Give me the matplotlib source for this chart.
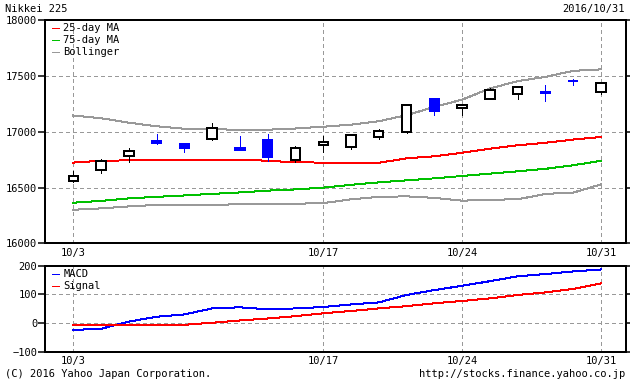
import matplotlib
matplotlib.use("Agg")
import matplotlib.pyplot as plt
from matplotlib.patches import Rectangle

plt.rcParams["font.family"] = ["DejaVu Sans Mono"]
plt.rcParams["font.size"] = 7.5
# the original is a crisp, non-antialiased bitmap chart
plt.rcParams["lines.antialiased"] = False
plt.rcParams["patch.antialiased"] = False

# -- data ----------------------------------------------------------------------
dates = ["10/3", "10/4", "10/5", "10/6", "10/7", "10/11", "10/12", "10/13", "10/14",
         "10/17", "10/18", "10/19", "10/20", "10/21", "10/24", "10/25", "10/26",
         "10/27", "10/28", "10/31"]
opens  = [16559, 16655, 16783, 16915, 16891, 16935, 16852, 16924, 16751, 16879,
          16867, 16957, 17002, 17291, 17213, 17294, 17334, 17352, 17457, 17357]
highs  = [16646, 16753, 16852, 16978, 16897, 17076, 16960, 16978, 16870, 16960,
          16969, 17022, 17238, 17291, 17240, 17390, 17399, 17417, 17471, 17432]
lows   = [16547, 16630, 16729, 16891, 16819, 16924, 16837, 16738, 16729, 16819,
          16846, 16935, 16989, 17148, 17154, 17294, 17291, 17276, 17417, 17334]
closes = [16601, 16738, 16825, 16897, 16855, 17029, 16837, 16774, 16858, 16906,
          16969, 17004, 17238, 17186, 17240, 17375, 17399, 17343, 17453, 17432]

ma25 = [16724, 16740, 16744, 16751, 16751, 16751, 16751, 16740, 16726, 16724,
        16724, 16722, 16762, 16780, 16812, 16848, 16879, 16901, 16930, 16953]
ma75 = [16365, 16381, 16404, 16417, 16430, 16444, 16457, 16473, 16484, 16500,
        16525, 16547, 16565, 16583, 16604, 16625, 16646, 16668, 16700, 16740]
bb_upper = [17145, 17121, 17081, 17049, 17027, 17027, 17013, 17018, 17029, 17045,
            17063, 17094, 17148, 17222, 17287, 17387, 17453, 17491, 17545, 17558]
bb_lower = [16302, 16314, 16332, 16345, 16341, 16341, 16354, 16356, 16356, 16361,
            16395, 16417, 16422, 16408, 16383, 16392, 16395, 16444, 16455, 16529]

macd   = [-24, -20, 5, 22, 30, 51, 55, 48, 51, 56, 65, 72, 98, 115, 130, 146,
          163, 171, 180, 187]
signal = [-8, -8, -8, -8, -6, 1, 9, 16, 24, 34, 42, 51, 59, 69, 77, 86, 98, 107,
          119, 138]

tick_days = ["10/3", "10/17", "10/24", "10/31"]
x = list(range(len(dates)))
tick_pos = [dates.index(d) for d in tick_days]

UP, DOWN = "black", "#0000ff"
LW = 0.72  # one pixel at 100 dpi
GRID = dict(color="#999999", linestyle=(0, (3, 3)), linewidth=LW)

fig = plt.figure(figsize=(6.3, 3.82), dpi=100)
ax1 = fig.add_axes([0.0722, 0.3626, 0.9214, 0.5851])
ax2 = fig.add_axes([0.0722, 0.0793, 0.9214, 0.2251])

# -- price panel ---------------------------------------------------------------
ax1.plot(x, bb_upper, color="#999999", lw=LW, zorder=2)
ax1.plot(x, bb_lower, color="#999999", lw=LW, zorder=2)
ax1.plot(x, ma25, color="#ff0000", lw=LW, zorder=2, label="25-day MA")
ax1.plot(x, ma75, color="#00c000", lw=LW, zorder=2, label="75-day MA")
ax1.plot([], [], color="#999999", lw=LW, label="Bollinger")

w = 0.34
for i in x:
    o, h, l, c = opens[i], highs[i], lows[i], closes[i]
    up = c >= o
    col = UP if up else DOWN
    ax1.vlines(i, l, h, color=col, lw=LW, zorder=3, antialiased=False)
    body = max(abs(c - o), 4)
    ax1.add_patch(Rectangle((i - w / 2, min(o, c)), w, body,
                            facecolor="white" if up else DOWN,
                            edgecolor=col, lw=1.1, zorder=4))

ax1.set_ylim(16000, 18000)
ax1.set_yticks([16000, 16500, 17000, 17500, 18000])

ax1.legend(loc="upper left", bbox_to_anchor=(0.012, 0.985), frameon=False,
           handlelength=0.6, handletextpad=0.45, labelspacing=0.2,
           borderpad=0, borderaxespad=0, fontsize=7.5)

# -- MACD panel ----------------------------------------------------------------
ax2.plot(x, macd, color="#0000ff", lw=LW, label="MACD", zorder=3)
ax2.plot(x, signal, color="#ff0000", lw=LW, label="Signal", zorder=3)
ax2.set_ylim(-100, 200)
ax2.set_yticks([-100, 0, 100, 200])
ax2.legend(loc="upper left", bbox_to_anchor=(0.012, 0.96), frameon=False,
           handlelength=0.6, handletextpad=0.45, labelspacing=0.2,
           borderpad=0, borderaxespad=0, fontsize=7.5)

for ax in (ax1, ax2):
    ax.set_xlim(-1, 19.9)
    ax.set_xticks(tick_pos)
    ax.set_xticklabels(tick_days)
    for p in tick_pos:
        ax.axvline(p, zorder=1, **GRID)
    lo, hi = ax.get_ylim()
    for t in ax.get_yticks():
        if lo < t < hi:
            ax.axhline(t, zorder=1, **GRID)
    ax.tick_params(axis="x", length=0, pad=3)
    ax.tick_params(axis="y", length=5, width=1.1, direction="out", pad=1,
                   right=True, labelright=False)
    for s in ax.spines.values():
        s.set_linewidth(1.1)

fig.text(5 / 630, 1 - 9 / 382, "Nikkei 225", ha="left", va="center")
fig.text(625 / 630, 1 - 9 / 382, "2016/10/31", ha="right", va="center")
fig.text(5 / 630, 1 - 374 / 382, "(C) 2016 Yahoo Japan Corporation.", ha="left", va="center")
fig.text(625 / 630, 1 - 374 / 382, "http://stocks.finance.yahoo.co.jp", ha="right", va="center")

fig.savefig("out.png", dpi=100)
